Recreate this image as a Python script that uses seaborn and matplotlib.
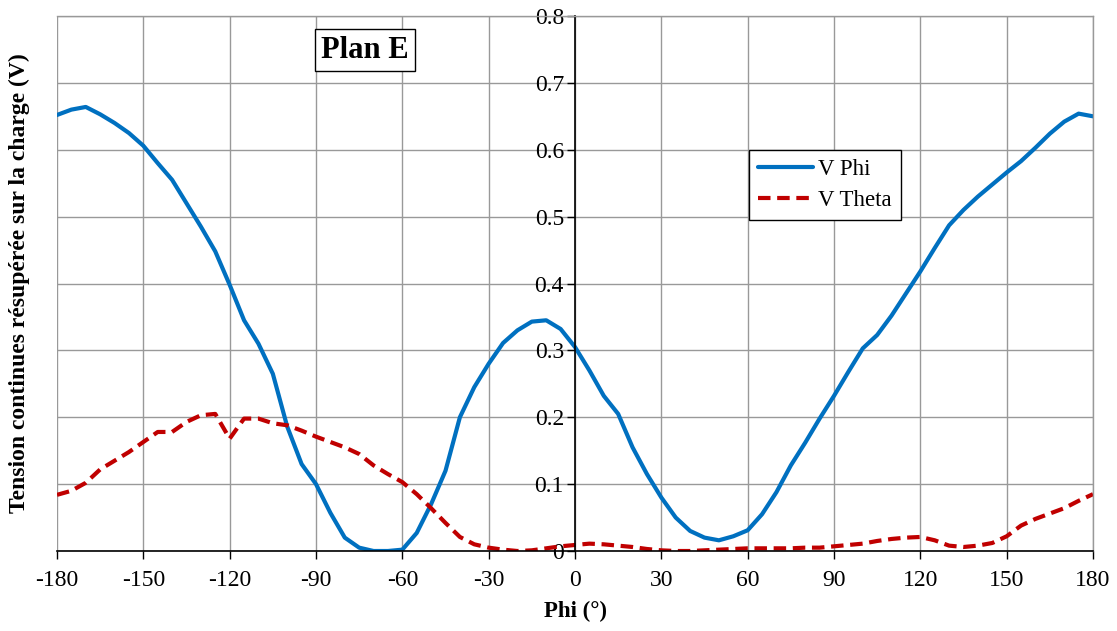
import numpy as np
import pandas as pd
import matplotlib
matplotlib.use("Agg")
import matplotlib.pyplot as plt
import seaborn as sns

# Angle Phi (deg), 5 deg steps
phi = list(range(-180, 181, 5))

v_phi = [0.652, 0.660, 0.664, 0.653, 0.640, 0.625, 0.606, 0.580, 0.555, 0.520,
         0.485, 0.448, 0.398, 0.345, 0.310, 0.265, 0.186, 0.130, 0.100, 0.057,
         0.020, 0.005, 0.000, 0.000, 0.002, 0.027, 0.070, 0.120, 0.200, 0.245,
         0.280, 0.311, 0.330, 0.343, 0.345, 0.332, 0.305, 0.270, 0.232, 0.205,
         0.155, 0.115, 0.080, 0.050, 0.030, 0.020, 0.016, 0.022, 0.031, 0.055,
         0.088, 0.128, 0.162, 0.198, 0.232, 0.268, 0.303, 0.323, 0.352, 0.385,
         0.418, 0.453, 0.487, 0.510, 0.530, 0.548, 0.566, 0.583, 0.603, 0.624,
         0.642, 0.654, 0.650]

v_theta = [0.084, 0.090, 0.102, 0.122, 0.135, 0.148, 0.163, 0.178, 0.178, 0.193,
           0.203, 0.205, 0.168, 0.198, 0.198, 0.191, 0.188, 0.180, 0.171, 0.163,
           0.155, 0.145, 0.128, 0.115, 0.103, 0.085, 0.064, 0.042, 0.021, 0.010,
           0.005, 0.002, 0.000, 0.001, 0.004, 0.007, 0.009, 0.011, 0.010, 0.008,
           0.006, 0.003, 0.001, 0.000, 0.000, 0.001, 0.002, 0.003, 0.004, 0.004,
           0.004, 0.004, 0.005, 0.005, 0.007, 0.009, 0.011, 0.015, 0.018, 0.020,
           0.021, 0.016, 0.008, 0.006, 0.008, 0.012, 0.022, 0.038, 0.048, 0.056,
           0.064, 0.075, 0.085]

x_ticks = list(range(-180, 181, 30))
y_ticks = [0, 0.1, 0.2, 0.3, 0.4, 0.5, 0.6, 0.7, 0.8]
y_ticklabels = ["0", "0.1", "0.2", "0.3", "0.4", "0.5", "0.6", "0.7", "0.8"]

df = pd.DataFrame({"phi": phi, "V Phi": v_phi, "V Theta": v_theta})

sns.set_style("white")
plt.rcParams['font.family'] = ['Liberation Serif', 'DejaVu Serif']
plt.rcParams['text.color'] = 'black'
plt.rcParams['axes.labelcolor'] = 'black'

fig = plt.figure(figsize=(11.17, 6.31), dpi=100)
ax = fig.add_axes([57/1117, 1 - 551/631, 1036/1117, 535/631])

sns.lineplot(ax=ax, x='phi', y='V Phi', data=df, color='#0070C0', linewidth=3,
             label='V Phi')
sns.lineplot(ax=ax, x='phi', y='V Theta', data=df, color='#C00000', linewidth=3,
             linestyle=(0, (3, 1.6)), label='V Theta')

# axis styling: y axis through x = 0 (do this before setting ticks)
ax.spines['left'].set_position(('data', 0))
ax.spines['left'].set_color('black')
ax.spines['left'].set_linewidth(1.2)
ax.spines['bottom'].set_color('black')
ax.spines['bottom'].set_linewidth(1.2)
for s in ['top', 'right']:
    ax.spines[s].set_color('#999999')
    ax.spines[s].set_linewidth(1)

ax.set_xlim(-180, 180)
ax.set_ylim(0, 0.8)
ax.set_xticks(x_ticks)
ax.set_xticklabels([str(v) for v in x_ticks])
ax.set_yticks(y_ticks)
ax.set_yticklabels(y_ticklabels)

ax.grid(True, color='#999999', linewidth=1)
ax.set_axisbelow(True)

ax.tick_params(axis='both', direction='out', length=6, width=1, color='black',
               labelcolor='black', labelsize=17, left=True, bottom=True)
ax.tick_params(axis='x', pad=8)
ax.tick_params(axis='y', pad=2)

ax.set_xlabel('Phi (°)', fontsize=16.5, fontweight='bold', color='black')
ax.set_ylabel('Tension continues résupérée sur la charge (V)', fontsize=17,
              fontweight='bold', color='black')
ax.xaxis.set_label_coords(0.5, -0.094)
ax.yaxis.set_label_coords(-0.026, 0.5)

ax.text(-73, 0.749, 'Plan E', fontsize=22, fontweight='bold', ha='center',
        va='center', color='black',
        bbox=dict(boxstyle='square,pad=0.2', facecolor='white',
                  edgecolor='black', linewidth=1))

leg = ax.legend(loc='upper left', bbox_to_anchor=(0.668, 0.75), fontsize=16.5,
                frameon=True, fancybox=False, edgecolor='black', framealpha=1,
                handlelength=2.4, borderpad=0.4, labelspacing=0.45,
                handletextpad=0.2, borderaxespad=0, labelcolor='black')
leg.get_frame().set_linewidth(1)

plt.savefig('out.png', dpi=100)
